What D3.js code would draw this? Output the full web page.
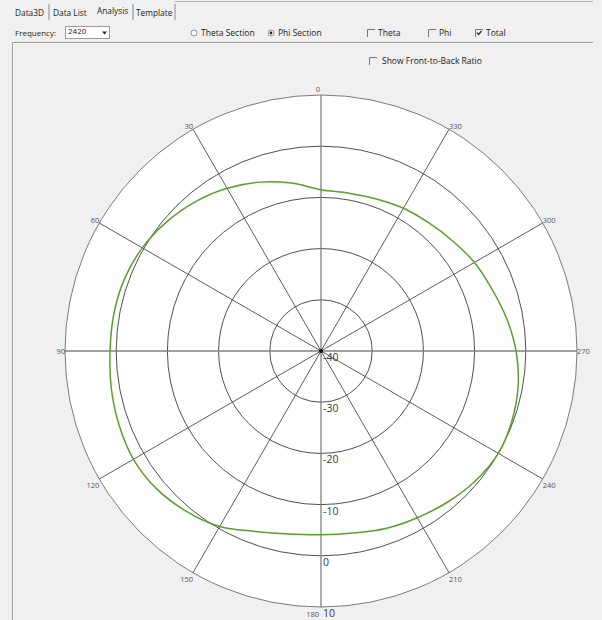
<!DOCTYPE html>
<html>
<head>
<meta charset="utf-8">
<script src="https://cdn.jsdelivr.net/npm/d3@7/dist/d3.min.js"></script>
<style>
    body { margin: 0; background: #f0f0f0; }
    svg { display: block; }
    .ui { font-family: "Open Sans", "Noto Sans", sans-serif; fill: #222; }
</style>
</head>
<body>
<script>
//pattern data (phi section, total gain in dB)
var phiAngles = [0, 10, 20, 30, 40, 50, 60, 70, 80, 90, 100, 110, 120, 130, 140, 150, 160, 170,
    180, 190, 200, 210, 220, 230, 240, 250, 260, 270, 280, 290, 300, 310, 320, 330, 340, 350];
var totalGain = [-8.5, -6.7, -4.9, -3.3, -1.9, -0.7, 0.3, 0.9, 1.1, 1.2, 1.6, 2.0, 2.3, 1.9, 0.9, -0.4, -2.5, -3.7,
    -4.1, -3.9, -3.1, -2.4, -1.5, -0.6, 0.0, -0.3, -0.9, -1.9, -3.2, -4.5, -5.4, -6.5, -7.3, -7.8, -8.4, -8.7];

//grid values
var ringValues = [-40, -30, -20, -10, 0, 10];
var spokeAngles = [0, 30, 60, 90, 120, 150, 180, 210, 240, 270, 300, 330];

//ui texts
var tabLabels = ["Data3D", "Data List", "Analysis", "Template"];
var frequencyValue = "2420";
var radioLabels = ["Theta Section", "Phi Section"];
var checkLabels = ["Theta", "Phi", "Total"];

window.onload = setChart();

function setChart(){
    var width = 602,
        height = 620,
        cx = 321,
        cy = 351,
        outerRadius = 256;

    var svg = d3.select("body")
        .append("svg")
        .attr("width", width)
        .attr("height", height);

    drawInterface(svg);

    //radial scale from dB to pixels
    var rScale = d3.scaleLinear()
        .domain([d3.min(ringValues), d3.max(ringValues)])
        .range([0, outerRadius]);

    var plot = svg.append("g")
        .attr("transform", "translate(" + cx + "," + cy + ")");

    //white disc with outer circle
    plot.append("circle")
        .attr("r", rScale(d3.max(ringValues)))
        .attr("fill", "#fff")
        .attr("stroke", "#7a7a7a")
        .attr("stroke-width", 1);

    //inner rings
    plot.selectAll(".ring")
        .data(ringValues.slice(1, -1))
        .enter()
        .append("circle")
        .attr("class", "ring")
        .attr("r", function(d){ return rScale(d); })
        .attr("fill", "none")
        .attr("stroke", "#3c3c3c")
        .attr("stroke-width", 0.9);

    //spokes, the four axes a bit lighter
    plot.selectAll(".spoke")
        .data(spokeAngles)
        .enter()
        .append("line")
        .attr("class", "spoke")
        .attr("x1", 0)
        .attr("y1", 0)
        .attr("x2", function(d){ return -outerRadius * Math.sin(d * Math.PI / 180); })
        .attr("y2", function(d){ return -outerRadius * Math.cos(d * Math.PI / 180); })
        .attr("stroke", function(d){ return d % 90 == 0 ? "#808080" : "#4a4a4a"; })
        .attr("stroke-width", function(d){ return d % 90 == 0 ? 1.3 : 0.9; });

    //angle labels
    plot.selectAll(".angleLabel")
        .data(spokeAngles)
        .enter()
        .append("text")
        .attr("class", "angleLabel")
        .attr("font-family", "Open Sans, sans-serif")
        .attr("font-size", "7.5px")
        .attr("fill", "#555")
        .each(function(d){
            var a = d * Math.PI / 180,
                s = Math.sin(a),
                c = Math.cos(a),
                px = -outerRadius * s,
                py = -outerRadius * c,
                anchor, x = px, y;
            if (d == 0){
                anchor = "middle"; x = px - 3; y = py - 3;
            } else if (d == 180){
                anchor = "end"; x = px - 2; y = py + 10;
            } else {
                anchor = s > 0 ? "end" : "start";
                y = py + (c > 0.1 ? 0 : (c < -0.1 ? 9 : 3));
            };
            d3.select(this)
                .attr("x", x)
                .attr("y", y)
                .attr("text-anchor", anchor)
                .text(d);
        });

    //ring value labels along the 180 axis
    plot.selectAll(".ringLabel")
        .data(ringValues)
        .enter()
        .append("text")
        .attr("class", "ringLabel")
        .attr("x", 2)
        .attr("y", function(d){ return rScale(d) + 10; })
        .attr("font-family", "Open Sans, sans-serif")
        .attr("font-size", "10.5px")
        .attr("fill", "#3a3a3a")
        .text(function(d){ return d; });

    //center dot
    plot.append("circle")
        .attr("r", 2)
        .attr("fill", "#111");

    //pattern curve
    var points = phiAngles.map(function(p, i){
        return [-p * Math.PI / 180, rScale(totalGain[i])];
    });

    var line = d3.lineRadial()
        .angle(function(d){ return d[0]; })
        .radius(function(d){ return d[1]; })
        .curve(d3.curveCardinalClosed);

    plot.append("path")
        .datum(points)
        .attr("d", line)
        .attr("fill", "none")
        .attr("stroke", "#58a02a")
        .attr("stroke-width", 1.5);
};

//draws the window controls around the chart
function drawInterface(svg){
    //tab strip
    var tabX = [15, 53, 97, 136],
        sepX = [49, 133, 175];

    svg.append("line")
        .attr("x1", 175).attr("x2", 593)
        .attr("y1", 1.5).attr("y2", 1.5)
        .attr("stroke", "#b5b5b5");

    svg.selectAll(".tab")
        .data(tabLabels)
        .enter()
        .append("text")
        .attr("class", "ui tab")
        .attr("x", function(d, i){ return tabX[i]; })
        .attr("y", function(d, i){ return i == 2 ? 14 : 16; })
        .attr("font-size", "8.3px")
        .text(function(d){ return d; });

    svg.selectAll(".tabSep")
        .data(sepX)
        .enter()
        .append("line")
        .attr("class", "tabSep")
        .attr("x1", function(d){ return d; })
        .attr("x2", function(d){ return d; })
        .attr("y1", 4).attr("y2", 20)
        .attr("stroke", "#8a8a8a");

    //frequency dropdown
    svg.append("text")
        .attr("class", "ui")
        .attr("x", 15).attr("y", 36)
        .attr("font-size", "8px")
        .text("Frequency:");

    svg.append("rect")
        .attr("x", 65.5).attr("y", 26.5)
        .attr("width", 44).attr("height", 12)
        .attr("fill", "#fff")
        .attr("stroke", "#9a9a9a");

    svg.append("text")
        .attr("class", "ui")
        .attr("x", 68).attr("y", 34)
        .attr("font-size", "8px")
        .text(frequencyValue);

    svg.append("path")
        .attr("d", "M102,31.5 L107,31.5 L104.5,34.5 Z")
        .attr("fill", "#222");

    //section radio buttons
    var radioX = [194, 271];
    radioX.forEach(function(x, i){
        svg.append("circle")
            .attr("cx", x).attr("cy", 33)
            .attr("r", 3)
            .attr("fill", "#fff")
            .attr("stroke", "#777")
            .attr("stroke-width", 0.8);
        if (i == 1){
            svg.append("circle")
                .attr("cx", x).attr("cy", 33)
                .attr("r", 1.4)
                .attr("fill", "#222");
        };
        svg.append("text")
            .attr("class", "ui")
            .attr("x", x + 7).attr("y", 36)
            .attr("font-size", "8.5px")
            .text(radioLabels[i]);
    });

    //component check boxes
    var checkX = [367, 428, 475];
    checkX.forEach(function(x, i){
        drawCheck(svg, x, 29, i == 2);
        svg.append("text")
            .attr("class", "ui")
            .attr("x", x + 11).attr("y", 36)
            .attr("font-size", "8.5px")
            .text(checkLabels[i]);
    });

    //panel border
    svg.append("path")
        .attr("d", "M12.5,620 V42.5 H593")
        .attr("fill", "none")
        .attr("stroke", "#9d9d9d");
    svg.append("path")
        .attr("d", "M13.5,620 V43.5 H593")
        .attr("fill", "none")
        .attr("stroke", "#fafafa");

    //front-to-back option
    drawCheck(svg, 369, 57, false);
    svg.append("text")
        .attr("class", "ui")
        .attr("x", 382).attr("y", 64)
        .attr("font-size", "8.5px")
        .text("Show Front-to-Back Ratio");
};

//classic sunken check box
function drawCheck(svg, x, y, checked){
    svg.append("path")
        .attr("d", "M" + (x + 0.5) + "," + (y + 8) + " V" + (y + 0.5) + " H" + (x + 8))
        .attr("fill", "none")
        .attr("stroke", "#777");
    if (checked){
        svg.append("path")
            .attr("d", "M" + (x + 2) + "," + (y + 3.5) + " L" + (x + 3.5) + "," + (y + 5.5) + " L" + (x + 6.5) + "," + (y + 2))
            .attr("fill", "none")
            .attr("stroke", "#222")
            .attr("stroke-width", 1.2);
    };
};
</script>
</body>
</html>
